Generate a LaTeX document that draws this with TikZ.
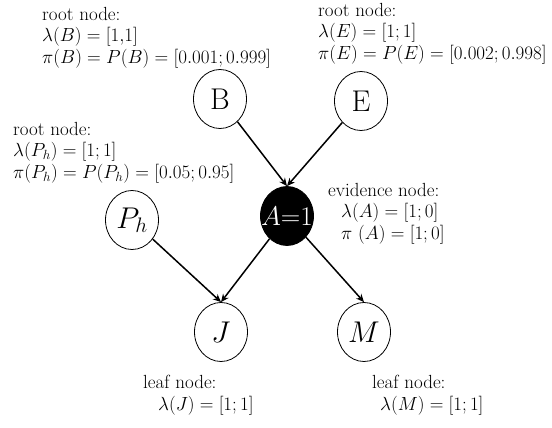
\RequirePackage{fix-cm}
\documentclass[tikz,border=0pt]{standalone}
\usepackage{amsmath, amssymb}
\usepackage{xcolor}
\usepackage{tikz}
\usetikzlibrary{positioning, arrows.meta, shapes.geometric}

\begin{document}
\begin{tikzpicture}[x=1pt, y=-1pt, every node/.style={inner sep=0pt},
		var/.style={draw, ellipse, line width=0.8pt, minimum width=53pt, minimum height=59pt, font=\fontsize{30}{34}\selectfont},
		note/.style={align=left, anchor=north west, font=\fontsize{19}{21.5}\selectfont},
		edge/.style={-{Stealth[length=8pt, width=7pt]}, line width=1.5pt}]
		\useasboundingbox (0,0) rectangle (552,428);
		
		% Nodes
		\node[var] (B) at (220,99) {B};
		\node[var] (E) at (361,101) {E};
		\node[var] (Ph) at (132,220) {$P_h$};
		\node[var, fill=black, text=white, font=\fontsize{27}{30}\selectfont] (A) at (287,216) {\makebox[0pt]{$A$=1}};
		\node[var] (J) at (221,332) {$J$};
		\node[var] (M) at (364,332) {$M$};
		
		% Labels for the nodes
		\node[note] (Bnote) at (42,7) {root node:\\$\lambda(B) = [1{,}1]$\\$\pi(B) = P(B) = [0.001; 0.999]$};
		\node[note] (Enote) at (318,3) {root node:\\$\lambda(E) = [1; 1]$\\$\pi(E) = P(E) = [0.002; 0.998]$};
		\node[note] (Phnote) at (13,122) {root node:\\$\lambda(P_h) = [1; 1]$\\$\pi(P_h) = P(P_h) = [0.05; 0.95]$};
		\node[note] (Anote) at (328,183) {evidence node:\\\hspace*{13pt}$\lambda(A) = [1; 0]$\\\hspace*{13pt}$\pi\ (A) = [1; 0]$};
		\node[note] (Jnote) at (143,375) {leaf node:\\\hspace*{15pt}$\lambda(J) = [1; 1]$};
		\node[note] (Mnote) at (372,375) {leaf node:\\\hspace*{8pt}$\lambda(M) = [1; 1]$};
		
		% Edges
		\draw[edge] (B) -- (A.north);
		\draw[edge] (E) -- (A.north);
		\draw[edge] (Ph) -- (J.north);
		\draw[edge] (A) -- (J.north);
		\draw[edge] (A) -- (M.north);
	\end{tikzpicture}
\end{document}
